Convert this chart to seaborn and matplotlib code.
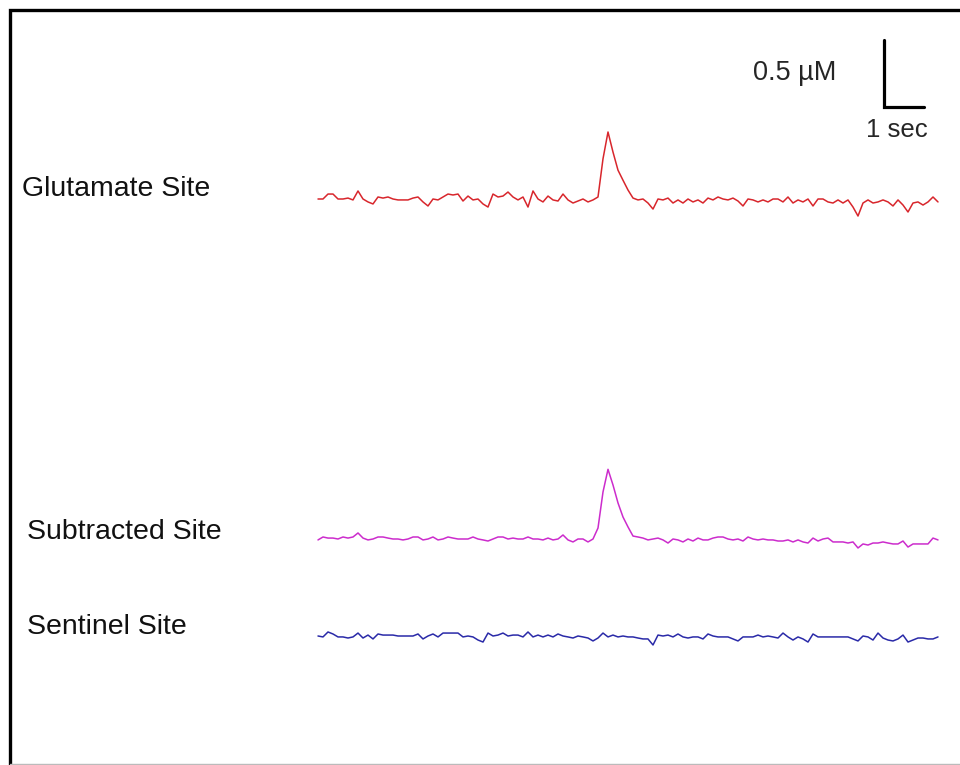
import numpy as np
import pandas as pd
import matplotlib.pyplot as plt
import seaborn as sns

# Traces (nM above each site's baseline), one sample every 0.125 s
dt = 0.125
glutamate_nM = [0, 0, 37, 37, 0, 0, 7, -7, 60, 0,
                -22, -37, 15, 7, 15, 0, -7, -7, -7, 7,
                15, -22, -52, 0, -7, 15, 37, 30, 37, -15,
                22, -7, 0, -37, -60, 37, 15, 22, 52, 15,
                -7, 15, -60, 60, 0, -22, 22, -7, -15, 37,
                -7, -30, -15, 0, -22, -7, 15, 300, 500, 350,
                215, 140, 67, 7, -7, 0, -30, -75, 0, -7,
                7, -30, -7, -30, 0, -22, -7, -30, 7, -7,
                15, 0, -7, 7, -15, -52, 0, -7, -22, -7,
                -22, 0, 0, -22, 15, -30, -7, -22, 0, -52,
                0, 0, -22, -30, -7, -30, -7, -60, -127, -30,
                -7, -30, -22, -7, -22, -52, -7, -45, -97, -30,
                -22, -45, -22, 15, -22]
subtracted_nM = [-7, 15, 7, 7, 0, 15, 7, 15, 45, 7,
                 -7, 0, 15, 15, 7, 0, 0, -7, 0, 15,
                 15, -7, 0, 15, -7, 0, 15, 7, 0, 0,
                 0, 15, 0, -7, -15, 0, 15, 15, 0, 7,
                 0, 0, 15, 0, 0, -7, 7, -7, 0, 30,
                 -7, -22, 0, 0, -22, 0, 82, 351, 520, 403,
                 269, 164, 90, 22, 15, 7, -7, 0, 7, -7,
                 -30, 0, -7, -22, 0, -15, 7, -7, -7, 7,
                 15, 15, 0, -7, 0, -15, 15, 0, -7, 0,
                 -7, -7, -15, -15, -7, -22, -7, -22, -30, 7,
                 -15, 0, 7, -22, -22, -22, -30, -22, -67, -37,
                 -45, -30, -30, -22, -30, -37, -37, -15, -60, -37,
                 -37, -37, -37, 7, -7]
sentinel_nM = [0, -7, 30, 15, -7, -7, -15, -7, 22, -15,
               7, -22, 15, 7, 7, 7, 0, 0, 0, 0,
               15, -22, 0, 15, -7, 22, 22, 22, 22, -7,
               0, -7, -30, -45, 22, 0, 7, 22, 0, 7,
               7, -7, 30, -7, 7, -7, 7, -7, 15, 0,
               -7, -15, 0, -7, -15, -37, -15, 22, -7, 7,
               -7, 0, -7, -7, -15, -22, -22, -67, 7, 0,
               7, -7, 15, -7, -15, -7, -7, -22, 15, 0,
               -7, -7, -7, -22, -37, -7, -7, -7, 7, -7,
               0, -7, -15, 22, -7, -30, -7, -22, -45, 15,
               -7, -7, -7, -7, -7, -7, -7, -22, -37, 0,
               -7, -30, 22, -15, -30, -37, -22, 7, -45, -30,
               -15, -15, -22, -22, -7]

sites = ['Glutamate Site', 'Subtracted Site', 'Sentinel Site']
scale_conc = 0.5   # µM
scale_time = 1     # sec

# layout (pixels of the 960x765 picture)
W, H = 960, 765
px_per_uM, px_per_s = 134, 40
x_start = 318
baseline_px = {'Glutamate Site': 199, 'Subtracted Site': 539, 'Sentinel Site': 636}
label_px = {'Glutamate Site': (22, 189), 'Subtracted Site': (27, 532), 'Sentinel Site': (27, 627)}
colors = {'Glutamate Site': '#d8262c', 'Subtracted Site': '#cc2ccc', 'Sentinel Site': '#2a2aa8'}


def tx(px):
    return (px - x_start) / px_per_s


def ty(py):
    return (H - py) / px_per_uM


frames = []
for site, vals in zip(sites, [glutamate_nM, subtracted_nM, sentinel_nM]):
    v = np.array(vals) / 1000.0
    frames.append(pd.DataFrame({'time': np.arange(len(v)) * dt,
                                'conc': v + ty(baseline_px[site]),
                                'site': site}))
df = pd.concat(frames, ignore_index=True)

sns.set_style('white')
plt.rcParams['font.family'] = ['Liberation Sans', 'DejaVu Sans']

fig = plt.figure(figsize=(9.6, 7.65), dpi=100)
ax = fig.add_axes([0, 0, 1, 1])
sns.lineplot(data=df, x='time', y='conc', hue='site', palette=colors,
             estimator=None, sort=False, lw=1.1, legend=False, ax=ax)

for site in sites:
    lx, ly = label_px[site]
    ax.text(tx(lx), ty(ly), site, fontsize=20.5, ha='left', va='center', color='#111111')

# scale bar
cx, cy = tx(884), ty(107)
ax.plot([cx, cx, cx + scale_time], [cy + scale_conc, cy, cy],
        color='black', lw=2.3, solid_joinstyle='miter')
ax.text(tx(753), ty(73), f'{scale_conc} µM', fontsize=19.5, ha='left', va='center')
ax.text(tx(866), ty(130), f'{scale_time} sec', fontsize=18.5, ha='left', va='center')

ax.set_xlim(tx(0), tx(W))
ax.set_ylim(0, H / px_per_uM)
ax.axis('off')

# frame around the picture (no right edge, thin grey bottom)
ax.plot([tx(9.5), tx(9.5), tx(W)], [ty(H), ty(9.5), ty(9.5)], color='black', lw=2.4,
        solid_joinstyle='miter', clip_on=False)
ax.plot([tx(9.5), tx(W)], [ty(763.5), ty(763.5)], color='#bbbbbb', lw=1.0)

fig.savefig('out.png', dpi=100)
